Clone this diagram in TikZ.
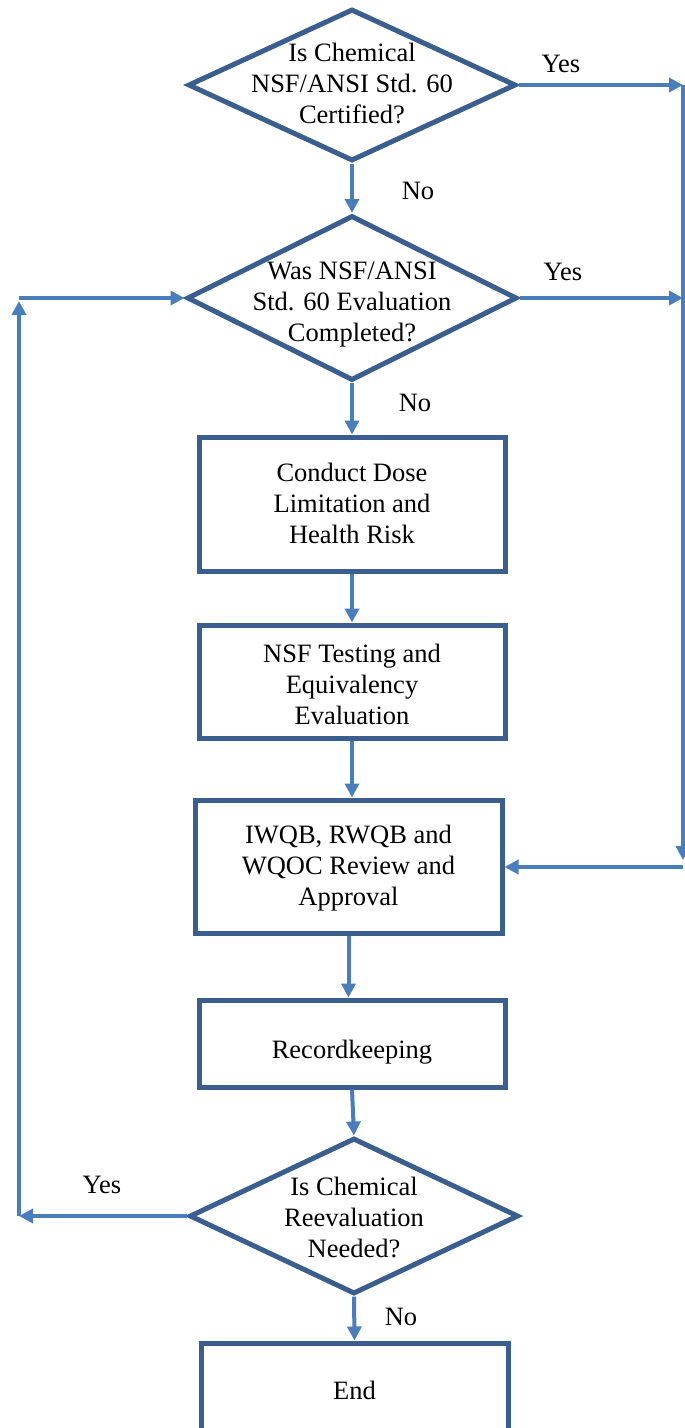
\documentclass[tikz,border=0pt]{standalone}
\usepackage{fontspec}
\setmainfont{Liberation Serif}
\usetikzlibrary{shapes.geometric,arrows.meta}
\definecolor{shapeblue}{HTML}{3A5F8E}
\definecolor{arrowblue}{HTML}{4A7EBB}
\begin{document}
\begin{tikzpicture}[x=1pt,y=-1pt,
  txt/.style={font=\fontsize{26.5}{31}\selectfont, align=center, inner sep=0pt},
  decision/.style={diamond, draw=shapeblue, line width=5pt, inner sep=0pt, fill=white},
  process/.style={rectangle, draw=shapeblue, line width=5pt, fill=white},
  arr/.style={draw=arrowblue, line width=4pt, -{Triangle[length=14pt,width=14pt]}},
  lab/.style={font=\fontsize{26.5}{31}\selectfont, anchor=base, inner sep=0pt}]
\useasboundingbox (0,0) rectangle (685,1428);

% decisions
\node[decision, minimum width=328pt, minimum height=152pt,
  label={[txt,yshift=2pt]center:{Is Chemical\\NSF/ANSI Std. 60\\Certified?}}] (d1) at (352,85) {};
\node[decision, minimum width=330pt, minimum height=165pt,
  label={[txt,yshift=-6.5pt]center:{Was NSF/ANSI\\Std. 60 Evaluation\\Completed?}}] (d2) at (352,298) {};
\node[decision, minimum width=329pt, minimum height=156pt,
  label={[txt,yshift=-1pt]center:{Is Chemical\\Reevaluation\\Needed?}}] (d3) at (354,1216) {};

% processes
\node[process, minimum width=306pt, minimum height=134pt,
  label={[txt,yshift=1pt]center:{Conduct Dose\\Limitation and\\Health Risk}}] (b1) at (352,504) {};
\node[process, minimum width=306pt, minimum height=113pt,
  label={[txt,yshift=-3pt]center:{NSF Testing and\\Equivalency\\Evaluation}}] (b2) at (352,681.5) {};
\node[process, minimum width=307pt, minimum height=133pt,
  label={[txt,yshift=-2pt]center:{IWQB, RWQB and\\WQOC Review and\\Approval}}] (b3) at (348.5,866.5) {};
\node[process, minimum width=306pt, minimum height=87pt,
  label={[txt,yshift=-9pt]center:{Recordkeeping}}] (b4) at (352,1043.5) {};
\node[process, minimum width=307pt, minimum height=100pt,
  label={[txt,yshift=3pt]center:{End}}] (end) at (354.5,1393) {};

% main flow
\draw[arr] (d1.south) -- (d2.north);
\draw[arr] (d2.south) -- (b1.north);
\draw[arr] (b1.south) -- (b2.north);
\draw[arr] (b2.south) -- (b2.south |- b3.north);
\draw[arr] (b3.south) -- (b3.south |- b4.north);
\draw[arr] (b4.south) -- (d3.north);
\draw[arr] (d3.south) -- (end.north);

% right side (Yes branches)
\coordinate (R1) at (683,85);
\coordinate (R2) at (683,298);
\coordinate (R3) at (683,860);
\coordinate (R4) at (683,867);
\draw[arr] (d1.east) -- (R1);
\draw[arr] (d2.east) -- (R2);
\draw[arr] (R1) -- (R3);
\draw[arr] (R4) -- (R4 -| b3.east);

% left loop
\coordinate (L1) at (19,1216);
\coordinate (L2) at (19,301);
\coordinate (L3) at (19,298);
\draw[arr] (d3.west) -- (L1);
\draw[arr] (L1) -- (L2);
\draw[arr] (L3) -- (d2.west);

% labels
\node[lab] (y1) at (561,72) {Yes};
\node[lab] (n1) at (418,199) {No};
\node[lab] (y2) at (563,280) {Yes};
\node[lab] (n2) at (415,411) {No};
\node[lab] (y3) at (102,1193) {Yes};
\node[lab] (n3) at (401,1325) {No};
\end{tikzpicture}
\end{document}
